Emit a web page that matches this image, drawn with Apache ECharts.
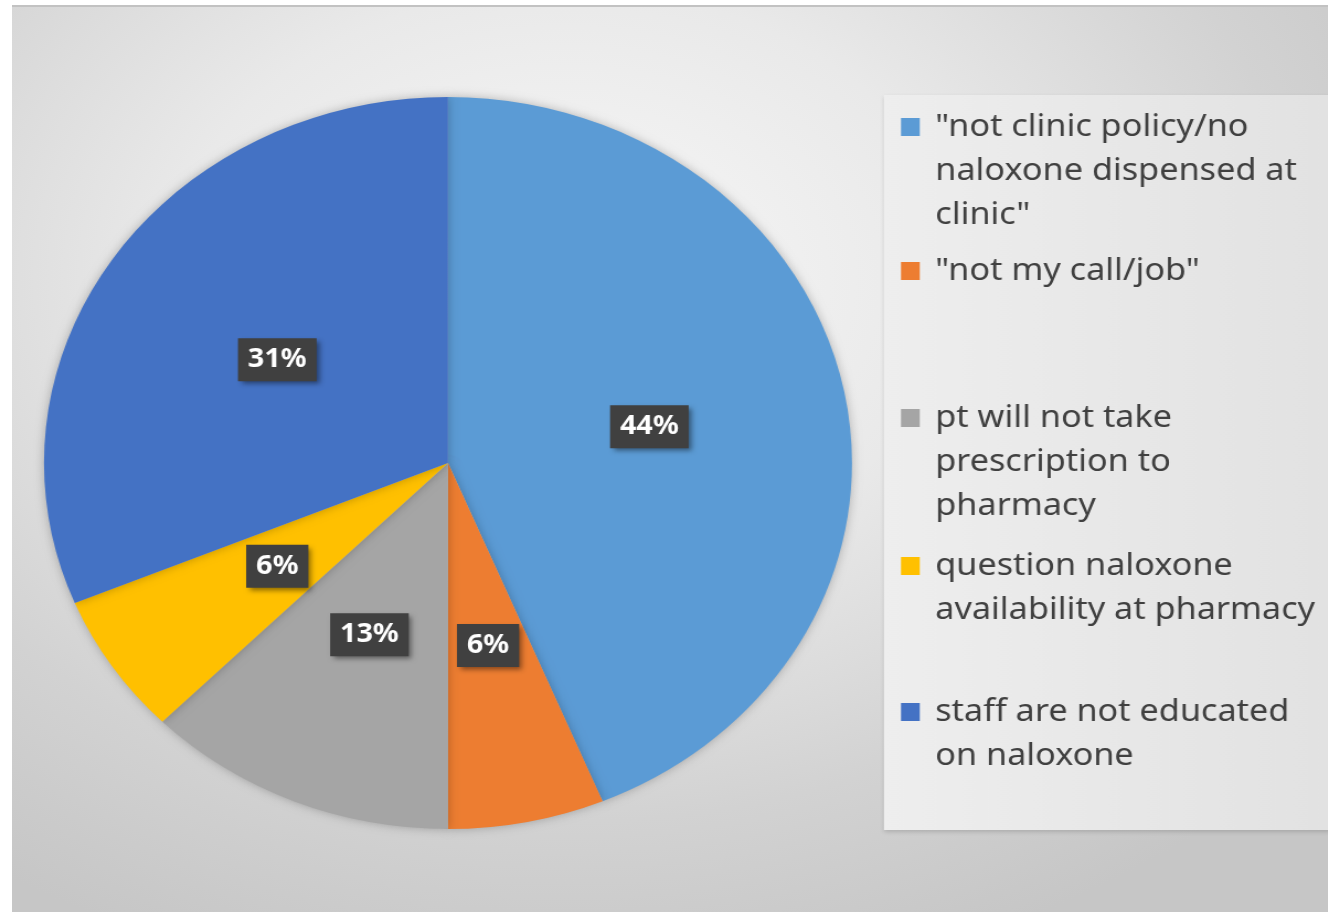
<!DOCTYPE html>
<html>
<head>
<meta charset="utf-8">
<script src="https://cdn.jsdelivr.net/npm/echarts@6/dist/echarts.min.js"></script>
<style>
  html, body { margin: 0; padding: 0; background: #fff; }
  body { width: 1328px; height: 912px; position: relative; overflow: hidden; }
  #bg {
    position: absolute; left: 12px; top: 5px; right: 0; bottom: 0;
    border-top: 2px solid #c2c2c2;
    background: radial-gradient(ellipse 75% 80% at 42% 30%, #f8f8f8 0%, #e9e9e9 40%, #d2d2d2 75%, #c6c6c6 100%);
  }
  /* the source picture is stretched sideways, so the chart is too */
  #chart {
    position: absolute; left: 0; top: 0;
    width: 1203px; height: 912px;
    transform: scaleX(1.1038); transform-origin: 0 0;
  }
</style>
</head>
<body>
<div id="bg"></div>
<div id="chart"></div>
<script>
const SX = 1.1038

const categories = [
  '"not clinic policy/no naloxone dispensed at clinic"',
  '"not my call/job"',
  'pt will not take prescription to pharmacy',
  'question naloxone availability at pharmacy',
  'staff are not educated on naloxone'
]
// respondents per reason (16 in total)
const counts = [7, 1, 2, 1, 5]
const colors = ['#5B9BD5', '#ED7D31', '#A5A5A5', '#FFC000', '#4472C4']
// legend text as it wraps in the picture
const legendLines = [
  ['"not clinic policy/no', 'naloxone dispensed at', 'clinic"'],
  ['"not my call/job"'],
  ['pt will not take', 'prescription to', 'pharmacy'],
  ['question naloxone', 'availability at pharmacy'],
  ['staff are not educated', 'on naloxone']
]
// page y of each legend marker
const legendY = [127, 271, 418, 566, 712]

const LH = 44

const legends = categories.map((name, i) => {
  const lines = legendLines[i]
  const n = lines.length
  // blank lines in front keep the marker level with the first text line
  const text = Array(n - 1).fill('').concat(lines).join('\n')
  return {
    data: [name],
    orient: 'vertical',
    left: 901 / SX,
    top: legendY[i] - (2 * n - 1) * LH / 2,
    padding: 0,
    itemGap: 0,
    itemWidth: 17,
    itemHeight: 18,
    icon: 'rect',
    selectedMode: false,
    formatter: () => text,
    textStyle: {
      fontFamily: 'Noto Sans',
      fontSize: 31,
      lineHeight: LH,
      color: '#404040',
      padding: [0, 0, 0, 9]
    }
  }
})

const chart = echarts.init(document.getElementById('chart'))
chart.setOption({
  animation: false,
  color: colors,
  graphic: [{
    type: 'rect',
    shape: { x: 884 / SX, y: 95, width: 446 / SX, height: 735 },
    style: {
      fill: new echarts.graphic.LinearGradient(0, 0, 1, 0, [
        { offset: 0, color: '#eeeeee' },
        { offset: 1, color: '#e2e2e2' }
      ]),
      shadowBlur: 4,
      shadowOffsetY: 2,
      shadowColor: 'rgba(0,0,0,0.15)'
    },
    silent: true
  }],
  legend: legends,
  series: [{
    type: 'pie',
    center: [448 / SX, 463],
    radius: 366,
    startAngle: 90,
    clockwise: true,
    emphasis: { disabled: true },
    itemStyle: {
      shadowBlur: 10,
      shadowColor: 'rgba(0,0,0,0.25)'
    },
    label: {
      show: true,
      position: 'inside',
      formatter: p => Math.round(p.percent) + '%',
      color: '#fff',
      fontFamily: 'Noto Sans',
      fontWeight: 'bold',
      fontSize: 26,
      lineHeight: 31,
      textBorderWidth: 0,
      backgroundColor: '#404040',
      padding: [6, 9, 6, 9],
      shadowBlur: 5,
      shadowOffsetX: 3,
      shadowOffsetY: 3,
      shadowColor: 'rgba(0,0,0,0.45)'
    },
    labelLine: { show: false },
    data: categories.map((name, i) => ({ name, value: counts[i] }))
  }]
})
</script>
</body>
</html>
